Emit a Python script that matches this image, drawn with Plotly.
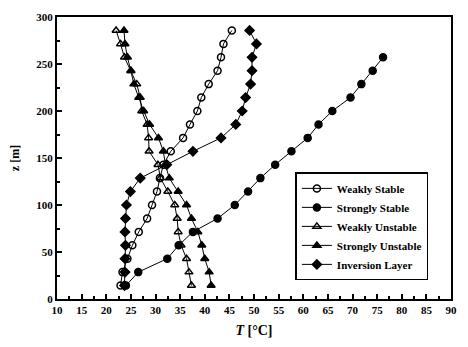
import plotly.graph_objects as go

z_levels = [14.3, 28.6, 42.9, 57.1, 71.4, 85.7, 100.0, 114.3, 128.6, 142.9,
            157.1, 171.4, 185.7, 200.0, 214.3, 228.6, 242.9, 257.1, 271.4, 285.7]

weakly_stable = [22.9, 23.3, 24.3, 25.3, 26.6, 28.3, 29.3, 30.3, 30.9, 31.6,
                 33.1, 35.6, 37.0, 38.5, 39.3, 40.8, 42.6, 43.3, 43.8, 45.5]
strongly_stable = [24.0, 26.5, 32.4, 34.7, 37.6, 42.6, 46.1, 48.8, 51.3, 54.3,
                   57.6, 60.9, 63.1, 65.9, 69.6, 71.8, 74.1, 76.2]
weakly_unstable = [37.3, 36.8, 36.3, 35.2, 34.6, 34.4, 33.9, 32.5, 31.0, 30.5,
                   28.7, 28.6, 28.3, 27.2, 26.9, 26.2, 25.0, 23.7, 22.9, 22.0]
strongly_unstable = [41.3, 40.9, 40.0, 39.4, 38.6, 37.3, 36.3, 34.6, 32.8, 32.0,
                     31.6, 30.6, 28.8, 27.6, 26.6, 25.6, 25.0, 24.3, 23.8, 23.6]
inversion_layer = [23.7, 23.8, 23.8, 23.9, 23.8, 23.9, 24.1, 24.9, 26.9, 32.3,
                   37.6, 43.3, 46.3, 47.6, 48.3, 49.3, 49.6, 49.6, 50.5, 49.1]

series = [
    ("Weakly Stable", weakly_stable, "circle-open"),
    ("Strongly Stable", strongly_stable, "circle"),
    ("Weakly Unstable", weakly_unstable, "triangle-up-open"),
    ("Strongly Unstable", strongly_unstable, "triangle-up"),
    ("Inversion Layer", inversion_layer, "diamond"),
]

FONT = "Liberation Serif"

fig = go.Figure()
for name, vals, sym in series:
    fig.add_trace(go.Scatter(
        x=vals, y=z_levels[:len(vals)], mode="lines+markers", name=name,
        line=dict(color="black", width=1),
        marker=dict(symbol=sym, size=7, color="black",
                    line=dict(color="black", width=1.5)),
    ))

axis_common = dict(
    showgrid=False, zeroline=False, showline=True, linecolor="black",
    linewidth=2, mirror=True, ticks="inside", ticklen=5, tickwidth=1.5,
    tickcolor="black",
    tickfont=dict(family=FONT, size=11, color="black", weight="bold"),
)

fig.update_layout(
    width=468, height=347,
    margin=dict(l=57, r=11, t=12, b=48),
    paper_bgcolor="white", plot_bgcolor="white",
    xaxis=dict(range=[10, 90], tickmode="linear", tick0=10, dtick=5,
               minor=dict(ticks="inside", ticklen=3, tickcolor="black", dtick=2.5, tick0=10),
               title=dict(text="<i>T</i> [°C]", standoff=10,
                          font=dict(family=FONT, size=14, color="black", weight="bold")),
               **axis_common),
    yaxis=dict(range=[0, 300], tickmode="linear", tick0=0, dtick=50,
               minor=dict(ticks="inside", ticklen=3, tickcolor="black", dtick=25, tick0=0),
               title=dict(text="z [m]", standoff=14,
                          font=dict(family=FONT, size=12, color="black", weight="bold")),
               **axis_common),
    legend=dict(x=0.605, y=0.449, xanchor="left", yanchor="top",
                bgcolor="white", bordercolor="black", borderwidth=1.5,
                font=dict(family=FONT, size=11, color="black", weight="bold"),
                itemwidth=30, tracegroupgap=0),
    showlegend=True,
)

fig.write_html("out.html")
